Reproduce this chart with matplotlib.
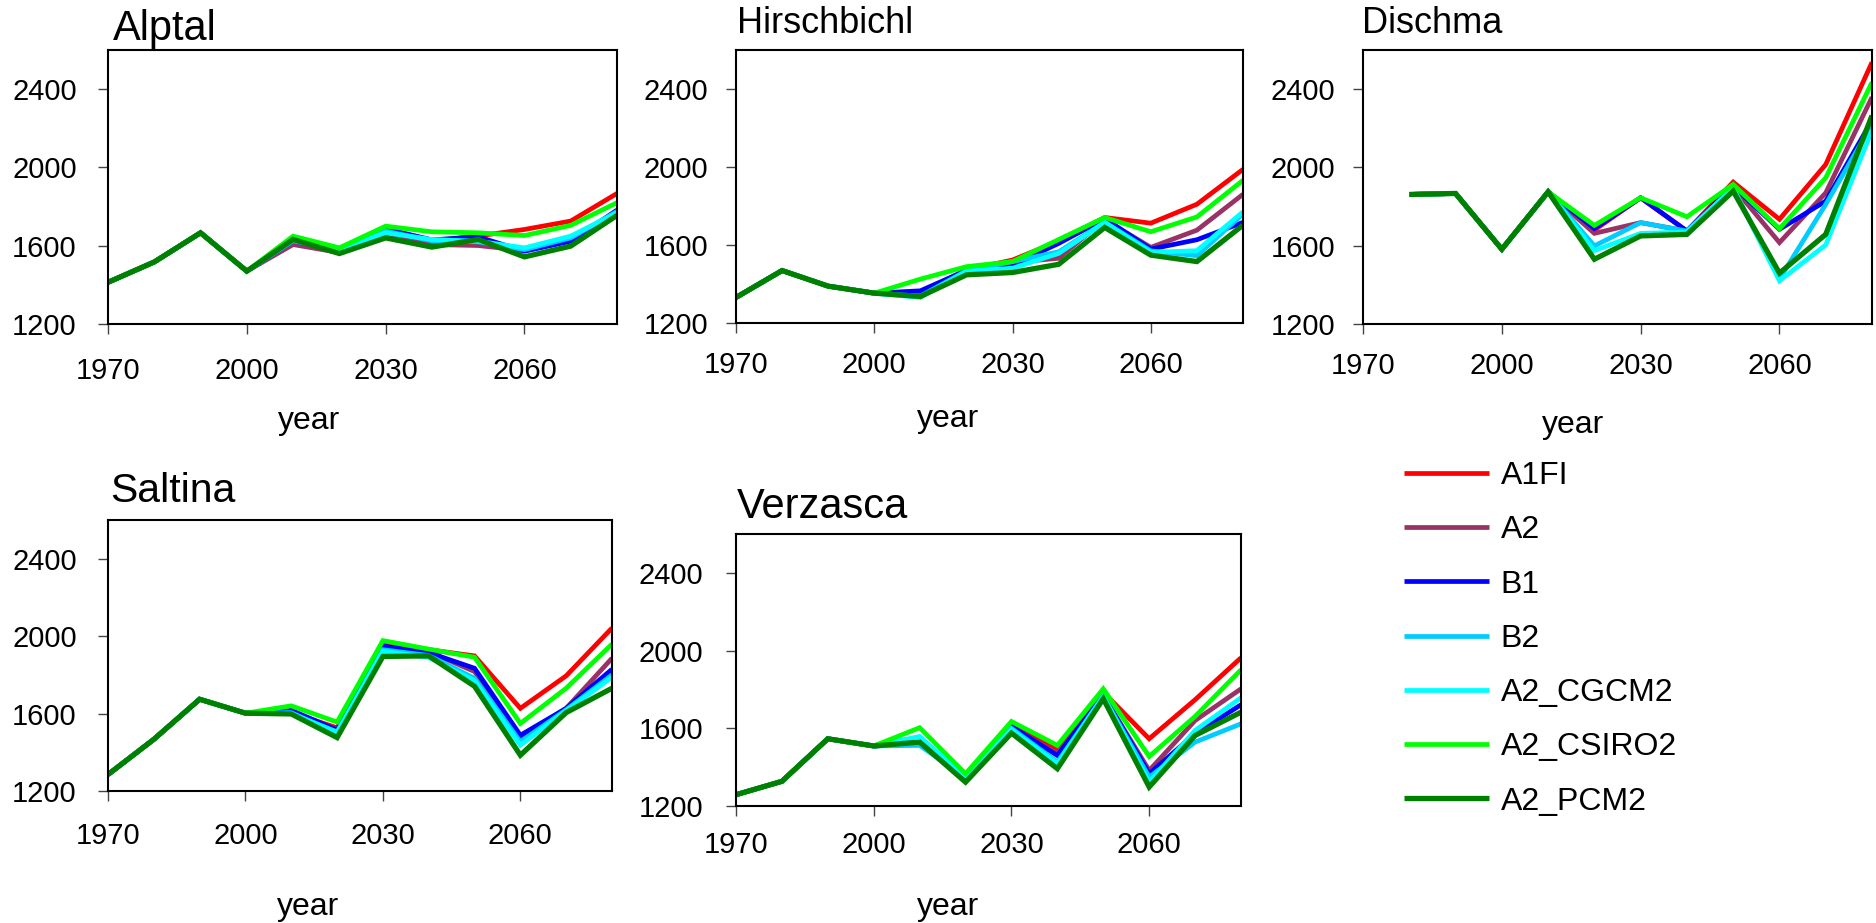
import numpy as np
import matplotlib
matplotlib.use("Agg")
import matplotlib.pyplot as plt

plt.rcParams["font.family"] = ["Liberation Sans", "DejaVu Sans"]

W, H = 1876, 923
years = [1970, 1980, 1990, 2000, 2010, 2020, 2030, 2040, 2050, 2060, 2070, 2080]
scenarios = ["A1FI", "A2", "B1", "B2", "A2_CGCM2", "A2_CSIRO2", "A2_PCM2"]
colors = ["#FF0000", "#993366", "#0000FF", "#00CCFF", "#00FFFF", "#00FF00", "#008000"]
widths = [3.4, 3.4, 3.4, 3.4, 3.4, 3.4, 3.8]

alptal_hist = [1413, 1517, 1666, 1470]
alptal = {
    "A1FI":      [1620, 1572, 1675, 1625, 1650, 1683, 1726, 1867],
    "A2":        [1606, 1565, 1660, 1606, 1601, 1575, 1628, 1775],
    "B1":        [1625, 1572, 1686, 1630, 1645, 1572, 1623, 1782],
    "B2":        [1625, 1575, 1675, 1625, 1620, 1580, 1640, 1775],
    "A2_CGCM2":  [1630, 1578, 1666, 1632, 1623, 1589, 1649, 1768],
    "A2_CSIRO2": [1649, 1589, 1700, 1671, 1666, 1652, 1704, 1820],
    "A2_PCM2":   [1632, 1560, 1640, 1593, 1632, 1543, 1598, 1755],
}

hirschbichl_hist = [1331, 1469, 1389, 1353]
hirschbichl = {
    "A1FI":      [1355, 1472, 1523, 1620, 1741, 1712, 1809, 1988],
    "A2":        [1345, 1472, 1510, 1532, 1730, 1588, 1676, 1860],
    "B1":        [1365, 1470, 1498, 1608, 1735, 1579, 1627, 1716],
    "B2":        [1338, 1468, 1515, 1565, 1716, 1570, 1545, 1760],
    "A2_CGCM2":  [1331, 1465, 1481, 1557, 1716, 1562, 1571, 1770],
    "A2_CSIRO2": [1425, 1489, 1515, 1628, 1741, 1668, 1744, 1932],
    "A2_PCM2":   [1336, 1447, 1459, 1501, 1690, 1548, 1515, 1702],
}

dischma_hist = [np.nan, 1862, 1867, 1582]
dischma = {
    "A1FI":      [1875, 1680, 1845, 1675, 1925, 1735, 2015, 2537],
    "A2":        [1875, 1663, 1718, 1675, 1900, 1616, 1870, 2359],
    "B1":        [1875, 1688, 1845, 1675, 1905, 1684, 1828, 2240],
    "B2":        [1875, 1599, 1718, 1675, 1895, 1430, 1811, 2220],
    "A2_CGCM2":  [1875, 1575, 1663, 1670, 1895, 1421, 1604, 2190],
    "A2_CSIRO2": [1875, 1704, 1845, 1748, 1913, 1687, 1947, 2435],
    "A2_PCM2":   [1875, 1531, 1650, 1658, 1879, 1460, 1658, 2265],
}

saltina_hist = [1285, 1467, 1674, 1602]
saltina = {
    "A1FI":      [1605, 1526, 1960, 1930, 1898, 1627, 1795, 2042],
    "A2":        [1605, 1510, 1940, 1920, 1817, 1471, 1627, 1886],
    "B1":        [1617, 1515, 1949, 1915, 1834, 1488, 1627, 1829],
    "B2":        [1605, 1497, 1930, 1900, 1782, 1454, 1620, 1800],
    "A2_CGCM2":  [1600, 1505, 1922, 1890, 1770, 1437, 1615, 1788],
    "A2_CSIRO2": [1640, 1556, 1977, 1933, 1891, 1549, 1731, 1959],
    "A2_PCM2":   [1598, 1476, 1895, 1898, 1741, 1385, 1605, 1731],
}

verzasca_hist = [1258, 1327, 1546, 1509]
verzasca = {
    "A1FI":      [1520, 1350, 1625, 1486, 1786, 1546, 1747, 1963],
    "A2":        [1520, 1346, 1605, 1470, 1770, 1383, 1640, 1803],
    "B1":        [1525, 1346, 1610, 1460, 1770, 1366, 1572, 1721],
    "B2":        [1512, 1346, 1600, 1426, 1765, 1349, 1529, 1623],
    "A2_CGCM2":  [1558, 1346, 1593, 1418, 1765, 1323, 1589, 1757],
    "A2_CSIRO2": [1603, 1366, 1635, 1512, 1803, 1455, 1661, 1901],
    "A2_PCM2":   [1529, 1323, 1575, 1392, 1752, 1298, 1563, 1683],
}

# panel layout in pixels: (left, right, top, bottom), title (x, baseline, size),
# xlabel (x, baseline), tick label pads in points (x, y)
panels = [
    ("Alptal", alptal_hist, alptal, (108, 617, 50, 324), (113, 40, 30), (309, 429), (16.4, 15.5)),
    ("Hirschbichl", hirschbichl_hist, hirschbichl, (736, 1243, 50, 323), (737, 33, 26), (948, 427), (13.5, 13)),
    ("Dischma", dischma_hist, dischma, (1363, 1872, 50, 324), (1362, 33, 26), (1573, 433), (13.5, 13)),
    ("Saltina", saltina_hist, saltina, (108, 612, 520, 791), (110, 502, 29.5), (308, 915), (15, 15.5)),
    ("Verzasca", verzasca_hist, verzasca, (736, 1241, 534, 806), (737, 518, 30), (948, 915), (10.7, 16.5)),
]

fig = plt.figure(figsize=(W / 100, H / 100), dpi=100)
handles = None
for name, hist, proj, (l, r, t, b), (tx, ty, ts), (yx, yy), (xpad, ypad) in panels:
    ax = fig.add_axes([l / W, 1 - b / H, (r - l) / W, (b - t) / H])
    lines = []
    for sc, col, lw in zip(scenarios, colors, widths):
        vals = list(hist) + proj[sc]
        ln, = ax.plot(years, vals, color=col, lw=lw, solid_joinstyle="miter",
                      solid_capstyle="butt", label=sc)
        lines.append(ln)
    if handles is None:
        handles = lines
    ax.set_xlim(1970, 2080)
    ax.set_ylim(1200, 2600)
    ax.set_xticks([1970, 2000, 2030, 2060])
    ax.set_yticks([1200, 1600, 2000, 2400])
    for s in ax.spines.values():
        s.set_linewidth(1.5)
        s.set_color("black")
    ax.tick_params(axis="both", direction="out", length=7, width=1.0, color="#444444",
                   labelsize=21)
    ax.tick_params(axis="x", pad=xpad)
    ax.tick_params(axis="y", pad=ypad)
    fig.text(tx / W, 1 - ty / H, name, fontsize=ts, ha="left", va="baseline")
    fig.text(yx / W, 1 - yy / H, "year", fontsize=23, ha="center", va="baseline")

fig.legend(handles=handles, labels=scenarios, loc="upper left",
           bbox_to_anchor=(1404 / W, 1 - 461 / H), frameon=False, fontsize=23,
           handlelength=2.65, handletextpad=0.37, labelspacing=0.76,
           borderpad=0, borderaxespad=0)

fig.savefig("out.png", dpi=100)
